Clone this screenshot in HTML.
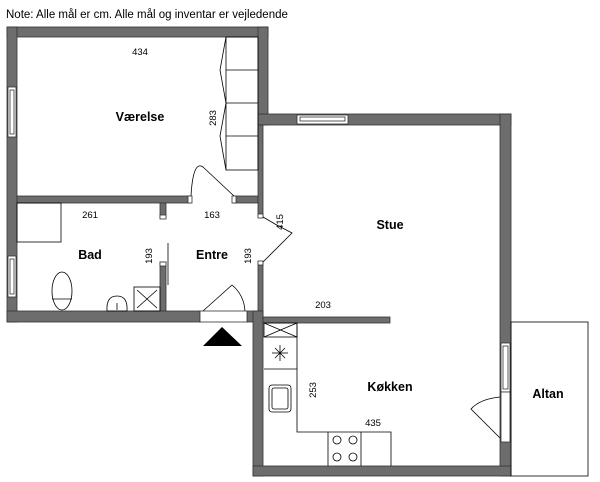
<!DOCTYPE html>
<html><head><style>
body{margin:0;background:#fff;}
svg{display:block;}
text{font-family:"Liberation Sans",sans-serif;fill:#000;}
</style></head><body>
<svg width="600" height="482" viewBox="0 0 600 482" xmlns="http://www.w3.org/2000/svg">
<text x="6" y="18" font-size="11.5">Note: Alle mål er cm. Alle mål og inventar er vejledende</text>
<g fill="#6d6d6d" stroke="#333" stroke-width="0.8">
<!-- outer top -->
<rect x="7" y="27" width="261" height="10"/>
<rect x="7" y="27" width="10" height="295"/>
<rect x="258" y="27" width="10" height="98"/>
<!-- stue top -->
<rect x="258" y="114" width="253" height="11"/>
<rect x="500" y="114" width="11" height="362"/>
<!-- vaerelse bottom -->
<rect x="17" y="196" width="173" height="7"/>
<rect x="233" y="196" width="25" height="7"/>
<!-- entrance right wall -->
<rect x="258" y="125" width="5" height="92"/>
<rect x="258" y="262" width="5" height="60"/>
<!-- bad stub -->
<rect x="160" y="203" width="6" height="15"/>
<rect x="160" y="262" width="6" height="50"/>
<!-- bad bottom -->
<rect x="7" y="311" width="193" height="11"/>
<rect x="247" y="311" width="16" height="11"/>
<!-- kitchen -->
<rect x="253" y="311" width="10" height="165"/>
<rect x="253" y="466" width="258" height="10"/>
<rect x="263" y="317" width="127" height="6"/>
</g>
<g fill="#fff" stroke="#333" stroke-width="0.8">
<!-- windows -->
<rect x="8" y="87" width="8" height="50"/><rect x="10" y="90" width="4" height="44"/>
<rect x="8" y="256" width="8" height="41"/><rect x="10" y="259" width="4" height="35"/>
<rect x="297" y="115" width="51" height="9"/><rect x="300" y="117" width="45" height="4"/>
<rect x="501" y="343" width="9" height="49"/><rect x="503" y="346" width="5" height="43"/>
<rect x="200" y="311" width="47" height="11"/>
<rect x="501" y="392" width="9" height="50"/>
<!-- door jamb stubs -->
<rect x="188" y="196" width="4" height="7"/><rect x="232" y="196" width="4" height="7"/>
<rect x="160" y="215" width="6" height="4"/><rect x="160" y="262" width="6" height="4"/>
<rect x="258" y="214" width="5" height="4"/><rect x="258" y="261" width="5" height="4"/>
</g>
<g fill="none" stroke="#000" stroke-width="0.8">
<!-- closets -->
<rect x="226" y="37" width="32" height="133"/>
<line x1="226" y1="70" x2="258" y2="70"/><line x1="226" y1="103" x2="258" y2="103"/><line x1="226" y1="136" x2="258" y2="136"/>
<polyline points="226,37 220,70 226,103 220,136 226,170"/>
<!-- vaerelse door -->
<path d="M191,196 Q193,160 203,167 L234,196"/>
<!-- entre-stue door -->
<path d="M263,217 L275,224 L292,233 L263,262"/>
<!-- entrance door -->
<path d="M203,311 L232,285 Q244,295 245,311"/>
<!-- bathtub -->
<rect x="17" y="203" width="44" height="39"/>
<!-- toilet -->
<ellipse cx="62" cy="291" rx="10" ry="19"/>
<line x1="52" y1="299" x2="72" y2="299"/>
<!-- sink -->
<path d="M107,311 Q106,296 117,296 Q128,296 127,311 Z"/>
<line x1="117" y1="303" x2="117" y2="310"/>
<!-- shower -->
<rect x="134" y="287" width="26" height="24"/>
<line x1="137" y1="290" x2="157" y2="308"/><line x1="157" y1="290" x2="137" y2="308"/>
<line x1="168" y1="243" x2="168" y2="285"/>
<!-- kitchen -->
<rect x="264" y="323" width="33" height="14"/>
<line x1="264" y1="323" x2="297" y2="337"/><line x1="297" y1="323" x2="264" y2="337"/>
<line x1="264" y1="369" x2="297" y2="369"/>
<polyline points="297,323 297,432 391,432 391,466"/>
<line x1="328" y1="432" x2="328" y2="466"/><line x1="361" y1="432" x2="361" y2="466"/>
<circle cx="337" cy="440" r="4"/><circle cx="353" cy="440" r="4"/>
<circle cx="337" cy="457" r="4"/><circle cx="353" cy="457" r="4"/>
<rect x="269" y="385" width="22" height="27" rx="3"/>
<rect x="272" y="388" width="16" height="21" rx="2"/>
<line x1="280" y1="345" x2="280" y2="361"/><line x1="272" y1="353" x2="288" y2="353"/>
<line x1="275" y1="348" x2="285" y2="358"/><line x1="285" y1="348" x2="275" y2="358"/>
<!-- altan door -->
<path d="M500,397 Q480,399 471,409 L500,438"/>
<rect x="511" y="322" width="77" height="154"/>
</g>
<polygon points="203,346 222,327 242,346" fill="#000"/>
<g font-size="9.5" text-anchor="middle">
<text x="140" y="55">434</text>
<text x="90" y="218">261</text>
<text x="212" y="218">163</text>
<text x="323" y="308">203</text>
<text x="373" y="426">435</text>
<text transform="translate(216,118) rotate(-90)">283</text>
<text transform="translate(152,256) rotate(-90)">193</text>
<text transform="translate(251,256) rotate(-90)">193</text>
<text transform="translate(283,222) rotate(-90)">415</text>
<text transform="translate(316,390) rotate(-90)">253</text>
</g>
<g font-size="12.5" font-weight="bold" text-anchor="middle">
<text x="140" y="121">Værelse</text>
<text x="90" y="259">Bad</text>
<text x="212" y="259">Entre</text>
<text x="390" y="229">Stue</text>
<text x="390" y="391">Køkken</text>
<text x="548" y="398">Altan</text>
</g>
</svg>
</body></html>
